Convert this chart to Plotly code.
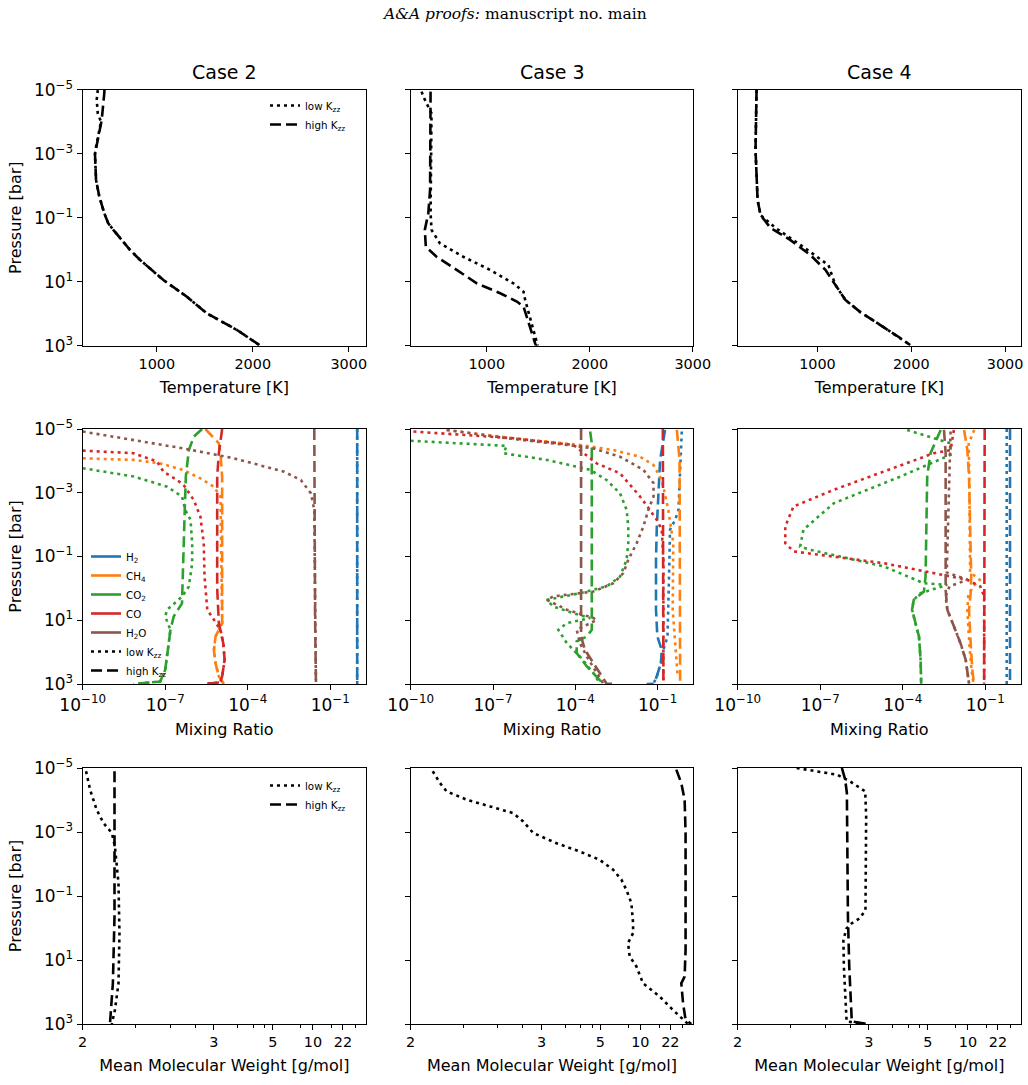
import numpy as np
import plotly.graph_objects as go

# ---------------- DATA ----------------
# Top row: temperature profiles.  Pressures given as log10(P / bar), temperatures in K.
c2_T_high_logp = [-5.0, -4.89, -4.05, -3.22, -2.99, -2.18, -1.66, -1.14, -0.82, -0.62, 0.01, 0.32, 0.95, 1.47, 1.99, 2.51, 3.0]
c2_T_high = [455, 453, 426, 367, 356, 367, 401, 453, 495, 547, 722, 826, 1069, 1314, 1522, 1836, 2079]
c2_T_low_logp = [-4.99, -4.68, -4.26, -4.0, -3.22, -2.99, -2.18, -1.66, -1.14, -0.82, -0.62, 0.01, 0.32, 0.95, 1.47, 1.99, 2.51, 3.0]
c2_T_low = [385, 374, 385, 419, 367, 356, 367, 401, 453, 495, 547, 722, 826, 1069, 1314, 1522, 1836, 2079]

c3_T_high_logp = [-4.94, -1.87, -1.14, -0.62, -0.09, 0.22, 0.63, 1.05, 1.36, 1.62, 1.78, 2.30, 2.93, 3.0]
c3_T_high = [455, 450, 433, 399, 409, 513, 708, 903, 1130, 1292, 1357, 1405, 1470, 1480]
c3_T_low_logp = [-4.94, -4.68, -4.26, -1.87, -1.14, -0.62, -0.20, 0.22, 0.63, 1.05, 1.31, 1.57, 2.30, 2.93, 3.0]
c3_T_low = [367, 400, 464, 460, 455, 464, 545, 772, 1032, 1259, 1357, 1373, 1438, 1487, 1495]

c4_T_high_logp = [-4.99, -3.12, -1.55, -1.08, -0.68, -0.30, 0.17, 0.63, 1.10, 1.57, 1.95, 2.35, 2.76, 2.98]
c4_T_high = [351, 340, 362, 394, 500, 713, 926, 1085, 1191, 1298, 1457, 1670, 1883, 1989]
c4_T_low_logp = [-4.99, -3.12, -1.55, -1.08, -0.68, -0.15, 0.48, 1.10, 1.57, 1.95, 2.35, 2.76, 2.98]
c4_T_low = [351, 340, 362, 394, 553, 819, 1117, 1191, 1298, 1457, 1670, 1883, 1989]

# Middle row: mixing ratios, given as log10 values; pressures as log10(P / bar)
species = ["H2", "CH4", "CO2", "CO", "H2O"]
species_labels = ["H<sub>2</sub>", "CH<sub>4</sub>", "CO<sub>2</sub>", "CO", "H<sub>2</sub>O"]
species_colors = ["#1f77b4", "#ff7f0e", "#2ca02c", "#d62728", "#8c564b"]

# ---- Case 2
c2_H2_high_logp = [-5.0, 3.0]
c2_H2_high_logx = [-0.02, -0.02]
c2_H2_low_logp = [-5.0, 3.0]
c2_H2_low_logx = [-0.02, -0.02]
c2_H2O_high_logp = [-5.0, -2.0, 1.0, 3.0]
c2_H2O_high_logx = [-1.58, -1.57, -1.55, -1.52]
c2_H2O_low_logp = [-4.92, -4.66, -4.39, -4.08, -3.66, -3.40, -2.98, -2.46, -1.0, 3.0]
c2_H2O_low_logx = [-10.0, -8.15, -6.33, -4.50, -2.68, -2.07, -1.70, -1.58, -1.56, -1.52]
c2_CO_high_logp = [-5.0, -4.55, -4.24, -3.51, 0.0, 1.09, 1.30, 1.72, 2.24, 2.76, 2.95, 3.0]
c2_CO_high_logx = [-4.93, -4.99, -5.05, -5.11, -5.11, -5.05, -4.99, -4.89, -4.84, -4.93, -5.0, -5.6]
c2_CO_low_logp = [-4.32, -4.24, -3.98, -3.66, -3.40, -3.24, -2.77, -2.25, -1.42, -0.37, 0.67, 0.99, 1.30, 1.72, 2.24, 2.76, 2.95, 3.0]
c2_CO_low_logx = [-10.0, -8.15, -7.30, -7.06, -6.57, -6.33, -5.96, -5.72, -5.60, -5.57, -5.47, -5.23, -4.99, -4.89, -4.84, -4.93, -5.0, -5.6]
c2_CH4_high_logp = [-5.0, -4.55, -4.24, -3.5, 1.09, 1.51, 1.93, 2.35, 2.76, 3.0]
c2_CH4_high_logx = [-5.54, -5.05, -4.99, -4.93, -4.93, -5.17, -5.23, -5.17, -5.05, -4.87]
c2_CH4_low_logp = [-4.08, -4.03, -3.92, -3.71, -3.45, -3.19, -2.88, 1.09, 1.51, 1.93, 2.35, 2.76, 3.0]
c2_CH4_low_logx = [-10.0, -8.15, -7.18, -6.33, -5.72, -5.23, -4.99, -4.93, -5.17, -5.23, -5.17, -5.05, -4.87]
c2_CO2_high_logp = [-5.0, -4.76, -4.34, -3.51, -2.46, -1.42, -0.37, 0.47, 0.88, 1.30, 1.72, 2.55, 2.92, 3.0]
c2_CO2_high_logx = [-5.66, -5.96, -6.14, -6.25, -6.29, -6.33, -6.35, -6.39, -6.69, -6.81, -6.87, -7.0, -7.18, -8.15]
c2_CO2_low_logp = [-3.77, -3.51, -3.19, -2.88, -2.46, -2.15, -1.42, -0.79, -0.06, 0.26, 0.67, 0.88, 1.30, 1.72, 2.55, 2.92, 3.0]
c2_CO2_low_logx = [-10.0, -8.15, -6.93, -6.39, -6.27, -6.08, -6.02, -6.02, -6.14, -6.39, -6.93, -7.0, -6.81, -6.87, -7.0, -7.18, -8.15]

# ---- Case 3
c3_H2_high_logp = [-4.97, -4.03, -2.98, -1.94, -0.90, 0.67, 1.51, 1.93, 2.34, 2.76, 2.99, 3.0]
c3_H2_high_logx = [-0.73, -0.91, -0.97, -1.03, -1.06, -1.06, -1.01, -0.85, -0.88, -1.03, -1.15, -1.40]
c3_H2_low_logp = [-4.92, -3.51, -2.46, -2.15, -1.84, -0.90, 0.67, 1.51, 1.93, 2.34, 2.76, 2.99]
c3_H2_low_logx = [-0.12, -0.18, -0.24, -0.36, -0.55, -0.57, -0.61, -0.64, -0.79, -0.88, -1.03, -1.15]
c3_CO_high_logp = [-5.0, 3.0]
c3_CO_high_logx = [-0.81, -0.79]
c3_CO_low_logp = [-4.92, -4.71, -4.50, -3.92, -3.61, -2.88, -2.46, -2.15, -1.84, -0.90, 3.0]
c3_CO_low_logx = [-9.90, -6.26, -4.07, -3.22, -2.37, -1.64, -1.28, -1.03, -0.85, -0.79, -0.79]
c3_CH4_high_logp = [-4.97, -4.03, 3.0]
c3_CH4_high_logx = [-0.30, -0.20, -0.18]
c3_CH4_low_logp = [-4.97, -4.71, -4.50, -4.34, -4.13, -3.87, -3.40, -2.46, -1.42, -0.37, 0.67, 1.72, 2.76]
c3_CH4_low_logx = [-8.69, -6.26, -3.83, -2.61, -1.64, -1.15, -0.85, -0.61, -0.43, -0.43, -0.45, -0.36, -0.27]
c3_H2O_high_logp = [-5.0, 1.51, 1.93, 2.34, 2.76, 2.99, 3.0]
c3_H2O_high_logx = [-3.79, -3.79, -3.65, -3.34, -3.04, -2.86, -2.49]
c3_H2O_low_logp = [-4.97, -4.71, -4.50, -4.39, -4.13, -3.72, -3.30, -2.88, -2.46, -1.94, -1.42, -0.90, -0.48, -0.16, 0.10, 0.25, 0.36, 0.67, 0.93, 0.99, 1.30, 1.72, 2.14, 2.66, 2.99]
c3_H2O_low_logx = [-8.69, -6.50, -4.31, -3.34, -2.37, -1.52, -1.15, -1.15, -1.34, -1.52, -1.76, -2.07, -2.25, -2.61, -3.34, -4.80, -5.04, -4.31, -3.34, -3.22, -3.95, -3.83, -3.58, -3.22, -2.98]
c3_CO2_high_logp = [-4.92, -4.55, 1.30, 1.51, 1.66, 2.03, 2.45, 2.76, 2.99]
c3_CO2_high_logx = [-3.46, -3.40, -3.40, -3.58, -3.95, -3.95, -3.58, -3.22, -2.98]
c3_CO2_low_logp = [-4.63, -4.47, -4.24, -4.03, -3.72, -3.40, -2.98, -2.46, -1.94, -1.42, -0.90, -0.37, -0.06, 0.15, 0.36, 0.57, 0.78, 0.93, 1.09, 1.30, 1.72, 2.14, 2.66, 2.99]
c3_CO2_low_logx = [-10.0, -6.50, -6.62, -5.04, -3.46, -2.86, -2.37, -2.13, -2.07, -2.07, -2.13, -2.37, -2.86, -3.83, -5.04, -4.80, -4.07, -3.46, -4.31, -4.62, -4.31, -3.83, -3.34, -3.10]

# ---- Case 4
c4_H2_high_logp = [-5.0, 3.0]
c4_H2_high_logx = [-0.10, -0.10]
c4_H2_low_logp = [-5.0, 3.0]
c4_H2_low_logx = [-0.22, -0.22]
c4_CO_high_logp = [-5.0, 3.0]
c4_CO_high_logx = [-1.02, -1.04]
c4_CO_low_logp = [-4.97, -4.34, -4.24, -3.66, -3.09, -2.57, -1.94, -1.42, -1.16, -0.79, -0.48, -0.27, -0.06, 0.25, 2.99]
c4_CO_low_logx = [-2.14, -2.26, -2.87, -4.69, -6.51, -7.97, -8.27, -8.27, -7.97, -4.69, -2.87, -1.65, -1.18, -1.04, -1.04]
c4_CO2_high_logp = [-4.97, -4.24, -3.51, -2.46, -1.42, -0.37, 0.10, 0.36, 0.67, 1.09, 1.51, 2.24, 2.99]
c4_CO2_high_logx = [-2.62, -2.99, -3.11, -3.13, -3.16, -3.17, -3.23, -3.60, -3.66, -3.54, -3.41, -3.35, -3.33]
c4_CO2_low_logp = [-4.97, -4.55, -4.19, -3.51, -2.67, -1.84, -1.31, -1.21, -0.69, -0.16, -0.11, 0.15, 0.36, 0.67, 1.09, 1.51, 2.24, 2.99]
c4_CO2_low_logx = [-3.84, -2.26, -2.26, -4.08, -6.51, -7.61, -7.73, -7.36, -4.69, -3.23, -2.38, -3.35, -3.60, -3.66, -3.54, -3.41, -3.35, -3.33]
c4_H2O_high_logp = [-4.97, -4.24, 0.04, 0.67, 1.19, 1.72, 2.24, 2.99]
c4_H2O_high_logx = [-2.50, -2.44, -2.44, -2.38, -2.14, -1.90, -1.71, -1.59]
c4_H2O_low_logp = [-4.92, -4.24, -0.5, -0.27, -0.06, 0.25, 0.67, 1.19, 1.72, 2.24, 2.99]
c4_H2O_low_logx = [-2.26, -2.28, -2.40, -1.65, -2.30, -2.44, -2.38, -2.14, -1.90, -1.71, -1.59]
c4_CH4_high_logp = [-4.97, -4.34, -3.51, -2.46, -1.42, -0.37, 0.15, 0.67, 1.72, 2.55, 2.99]
c4_CH4_high_logx = [-1.77, -1.65, -1.59, -1.56, -1.53, -1.51, -1.53, -1.59, -1.53, -1.47, -1.41]
c4_CH4_low_logp = [-4.97, -4.55, -3.51, -0.5, -0.27, -0.06, 0.25, 0.67, 1.72, 2.55, 2.99]
c4_CH4_low_logx = [-1.40, -1.60, -1.58, -1.55, -1.20, -1.45, -1.62, -1.65, -1.58, -1.50, -1.43]

# Bottom row: mean molecular weight [g/mol]; pressures as log10(P / bar)
c2_mmw_high_logp = [-4.90, -2.45, -0.36, 1.73, 2.56, 3.0]
c2_mmw_high = [2.138, 2.140, 2.138, 2.130, 2.120, 2.116]
c2_mmw_low_logp = [-4.90, -4.32, -3.70, -3.28, -2.97, -2.55, -1.40, 0.16, 1.73, 2.56, 3.0]
c2_mmw_low = [2.013, 2.029, 2.056, 2.086, 2.125, 2.140, 2.158, 2.163, 2.158, 2.140, 2.125]

c3_mmw_high_logp = [-4.95, -4.53, -4.01, -2.97, -1.40, 0.68, 1.52, 1.73, 2.35, 2.87, 3.0]
c3_mmw_high = [25.2, 28.8, 31.8, 32.8, 32.8, 32.8, 31.8, 28.8, 30.3, 32.8, 40.4]
c3_mmw_low_logp = [-4.90, -4.53, -4.27, -4.01, -3.80, -3.59, -3.33, -2.97, -2.65, -2.39, -2.13, -1.82, -1.51, -1.19, -0.78, -0.15, 0.16, 0.47, 0.89, 1.20, 1.73, 2.14, 2.56, 2.87, 3.0]
c3_mmw_low = [2.092, 2.126, 2.159, 2.272, 2.435, 2.645, 2.754, 2.880, 3.29, 3.96, 4.95, 5.86, 6.65, 7.26, 8.02, 8.33, 8.33, 7.49, 7.74, 9.0, 10.49, 15.2, 23.3, 30.3, 35.6]

c4_mmw_high_logp = [-5.0, -4.64, -4.22, -2.45, -0.36, 1.20, 2.56, 2.92, 3.0]
c4_mmw_high = [2.659, 2.694, 2.713, 2.72, 2.725, 2.74, 2.758, 2.77, 2.97]
c4_mmw_low_logp = [-5.0, -4.9, -4.79, -4.58, -4.27, -3.49, -1.40, -0.57, -0.31, -0.15, 0.01, 0.37, 1.20, 2.25, 2.92, 3.0]
c4_mmw_low = [2.29, 2.43, 2.61, 2.75, 2.946, 2.96, 2.96, 2.95, 2.875, 2.77, 2.71, 2.675, 2.68, 2.70, 2.71, 2.97]

# Mean-molecular-weight axis scale (piecewise in -1/(M-1)), anchors along an axis of length 283
mmw_scale_vals = [2, 3, 5, 10, 22, 44]
mmw_scale_pos = [0, 131, 190, 230, 260, 283]
mmw_major = [2, 3, 5, 10, 22]
mmw_minor = [2.25, 2.5, 2.75, 3.5, 4, 4.5, 7.5, 15, 30]

case_titles = ["Case 2", "Case 3", "Case 4"]

# ---------------- FIGURE ----------------
W, H = 1028, 1085
cols_px = [(82.7, 366.0), (410.7, 693.3), (737.7, 1021.0)]
rows_px = [(89.7, 345.7), (429.0, 684.0), (768.0, 1024.0)]
FONT = "DejaVu Sans"
LW = 2.6
DOT = "3px,4px"
DASH = "11px,5px"


def mmw_tf(m):
    u = -1.0 / (np.asarray(m, dtype=float) - 1.0)
    ua = -1.0 / (np.asarray(mmw_scale_vals, dtype=float) - 1.0)
    return np.interp(u, ua, mmw_scale_pos)


def ax(r, c):
    return r * 3 + c + 1


fig = go.Figure()


def add_line(r, c, x, y, color, dash):
    i = ax(r, c)
    fig.add_trace(go.Scatter(
        x=x, y=y, mode="lines", showlegend=False, hoverinfo="skip",
        line=dict(color=color, width=LW, dash=dash),
        xaxis="x" if i == 1 else f"x{i}", yaxis="y" if i == 1 else f"y{i}"))


# top row
temps = [
    (c2_T_low_logp, c2_T_low, c2_T_high_logp, c2_T_high),
    (c3_T_low_logp, c3_T_low, c3_T_high_logp, c3_T_high),
    (c4_T_low_logp, c4_T_low, c4_T_high_logp, c4_T_high),
]
for c, (lp, lt, hp, ht) in enumerate(temps):
    add_line(0, c, ht, 10 ** np.array(hp), "black", DASH)
    add_line(0, c, lt, 10 ** np.array(lp), "black", DOT)

# middle row
g = globals()
for c, case in enumerate(["c2", "c3", "c4"]):
    for sp, col in zip(species, species_colors):
        hp = g[f"{case}_{sp}_high_logp"]
        hx = g[f"{case}_{sp}_high_logx"]
        lp = g[f"{case}_{sp}_low_logp"]
        lx = g[f"{case}_{sp}_low_logx"]
        add_line(1, c, 10 ** np.array(hx), 10 ** np.array(hp), col, DASH)
        add_line(1, c, 10 ** np.array(lx), 10 ** np.array(lp), col, DOT)

# bottom row
mmws = [
    (c2_mmw_low_logp, c2_mmw_low, c2_mmw_high_logp, c2_mmw_high),
    (c3_mmw_low_logp, c3_mmw_low, c3_mmw_high_logp, c3_mmw_high),
    (c4_mmw_low_logp, c4_mmw_low, c4_mmw_high_logp, c4_mmw_high),
]
for c, (lp, lm, hp, hm) in enumerate(mmws):
    add_line(2, c, mmw_tf(hm), 10 ** np.array(hp), "black", DASH)
    add_line(2, c, mmw_tf(lm), 10 ** np.array(lp), "black", DOT)

# legends (dummy traces)
def leg(name, color, dash, legend):
    fig.add_trace(go.Scatter(x=[None], y=[None], mode="lines", name=name,
                             line=dict(color=color, width=LW, dash=dash),
                             legend=legend, showlegend=True))

leg("low K<sub>zz</sub>", "black", DOT, "legend")
leg("high K<sub>zz</sub>", "black", DASH, "legend")
for lab, col in zip(species_labels, species_colors):
    leg(lab, col, "solid", "legend2")
leg("low K<sub>zz</sub>", "black", DOT, "legend2")
leg("high K<sub>zz</sub>", "black", DASH, "legend2")
leg("low K<sub>zz</sub>", "black", DOT, "legend3")
leg("high K<sub>zz</sub>", "black", DASH, "legend3")

tickfont = dict(family=FONT, size=14.4, color="black")
logtickfont = dict(family=FONT, size=17, color="black")
titlefont = dict(family=FONT, size=16, color="black")
pvals = [1e-5, 1e-3, 1e-1, 1e1, 1e3]
ptext = ["10<sup>−5</sup>", "10<sup>−3</sup>", "10<sup>−1</sup>", "10<sup>1</sup>", "10<sup>3</sup>"]

layout = dict(width=W, height=H, margin=dict(l=0, r=0, t=0, b=0, autoexpand=False),
              plot_bgcolor="white", paper_bgcolor="white",
              font=dict(family=FONT, color="black"))

T_ranges = [[228, 3180], [262, 3005], [150, 3170]]
base_axis = dict(showline=True, linecolor="black", linewidth=1.3, mirror=True,
                 ticks="outside", ticklen=5, tickwidth=1.2, tickcolor="black",
                 showgrid=False, zeroline=False, tickfont=tickfont, automargin=False)

for r in range(3):
    for c in range(3):
        i = ax(r, c)
        xk = "xaxis" if i == 1 else f"xaxis{i}"
        yk = "yaxis" if i == 1 else f"yaxis{i}"
        yname = "y" if i == 1 else f"y{i}"
        xname = "x" if i == 1 else f"x{i}"
        xd = [cols_px[c][0] / W, cols_px[c][1] / W]
        yd = [1 - rows_px[r][1] / H, 1 - rows_px[r][0] / H]
        xa = dict(base_axis, domain=xd, anchor=yname)
        if r == 0:
            xa.update(type="linear", range=T_ranges[c], tickvals=[1000, 2000, 3000],
                      title=dict(text="Temperature [K]", font=titlefont, standoff=10))
        elif r == 1:
            xa.update(type="log", range=[-10, 0.3], tickvals=[1e-10, 1e-7, 1e-4, 1e-1],
                      ticktext=["10<sup>−10</sup>", "10<sup>−7</sup>", "10<sup>−4</sup>", "10<sup>−1</sup>"],
                      tickfont=logtickfont,
                      title=dict(text="Mixing Ratio", font=titlefont, standoff=10))
        else:
            xa.update(type="linear", range=[0, 283], tickmode="array",
                      tickvals=list(mmw_tf(mmw_major)), ticktext=[str(v) for v in mmw_major],
                      minor=dict(tickmode="array", tickvals=list(mmw_tf(mmw_minor)), ticks="outside",
                                 ticklen=3, tickwidth=1, tickcolor="black"),
                      title=dict(text="Mean Molecular Weight [g/mol]", font=titlefont, standoff=10))
        ya = dict(base_axis, domain=yd, anchor=xname, type="log", range=[3, -5],
                  tickvals=pvals, ticktext=ptext, showticklabels=(c == 0), tickfont=logtickfont)
        if c == 0:
            ya["title"] = dict(text="Pressure [bar]", font=titlefont, standoff=8)
        layout[xk] = xa
        layout[yk] = ya

leg_common = dict(bgcolor="rgba(0,0,0,0)", borderwidth=0, font=dict(family=FONT, size=10.3, color="black"),
                  xanchor="left", yanchor="top", itemwidth=30, tracegroupgap=0)
layout["legend"] = dict(leg_common, x=265 / W, y=1 - 91 / H)
layout["legend2"] = dict(leg_common, x=86 / W, y=1 - 542 / H)
layout["legend3"] = dict(leg_common, x=265 / W, y=1 - 771 / H)

annotations = []
for c, t in enumerate(case_titles):
    annotations.append(dict(text=t, x=(cols_px[c][0] + cols_px[c][1]) / 2 / W, y=1 - 72 / H,
                            xref="paper", yref="paper", showarrow=False,
                            font=dict(family=FONT, size=19, color="black"), xanchor="center", yanchor="middle"))
annotations.append(dict(text="<i>A&A proofs:</i> manuscript no. main", x=0.5, y=1 - 14 / H,
                        xref="paper", yref="paper", showarrow=False,
                        font=dict(family="DejaVu Serif", size=15.5, color="black"),
                        xanchor="center", yanchor="middle"))
layout["annotations"] = annotations

fig.update_layout(**layout)
fig.write_html("out.html")
